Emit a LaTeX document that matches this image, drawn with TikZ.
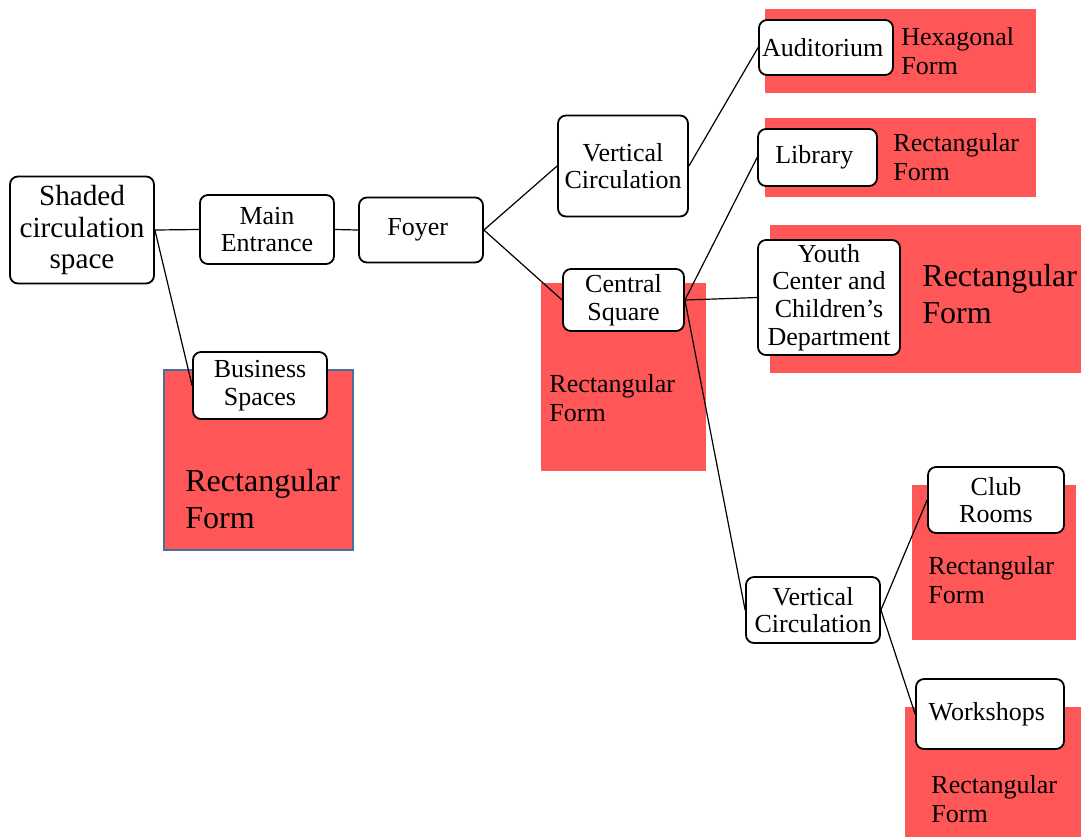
\documentclass[tikz,border=0pt]{standalone}
\usepackage{fontspec}
\setmainfont{Liberation Serif}
\definecolor{formred}{HTML}{FF5757}
\definecolor{formedge}{HTML}{41719C}

\begin{document}
\begin{tikzpicture}
    [
      x=0.5pt, y=-0.5pt,
      box/.style=
      {
        draw,
        fill=white,
        text=black,
        rounded corners=4pt,
        line width=0.9pt,
        align=center,
        inner sep=1pt,
        font=\fontsize{13}{13.8}\selectfont
      },
      form/.style=
      {
        fill=formred
      },
      formtxt/.style=
      {
        anchor=west,
        align=left,
        inner sep=0pt,
        font=\fontsize{13}{14.8}\selectfont
      },
      bigtxt/.style=
      {
        formtxt,
        font=\fontsize{16}{18.5}\selectfont
      },
      link/.style=
      {
        line width=0.6pt
      }
    ]
    \useasboundingbox (0,0) rectangle (1085,837);

    % red form panels
    \fill[form] (164,370) rectangle (353,550);
    \draw[formedge, line width=1pt] (164,370) rectangle (353,550);
    \fill[form] (541,283) rectangle (706,471);
    \fill[form] (765,9) rectangle (1036,93);
    \fill[form] (765,118) rectangle (1036,197);
    \fill[form] (770,225) rectangle (1081,373);
    \fill[form] (912,485) rectangle (1076,640);
    \fill[form] (905,707) rectangle (1081,837);

    \node[bigtxt](BusinessForm) at (185,499) {Rectangular\\Form};
    \node[formtxt](CentralForm) at (549,398) {Rectangular\\Form};
    \node[formtxt](AuditoriumForm) at (901,51) {Hexagonal\\Form};
    \node[formtxt](LibraryForm) at (893,157) {Rectangular\\Form};
    \node[bigtxt](YouthForm) at (922,294) {Rectangular\\Form};
    \node[formtxt](ClubForm) at (928,580) {Rectangular\\Form};
    \node[formtxt](WorkshopsForm) at (931,799) {Rectangular\\Form};

    % spaces
    \node[box, minimum width=72pt, minimum height=53.5pt,
          font=\fontsize{14.6}{15.6}\selectfont](Shaded) at (82,230)
    {
      Shaded\\circulation\\space
    };
    \node[box, minimum width=67pt, minimum height=34.5pt](Entrance) at (267,229.5)
    {
      Main\\Entrance
    };
    \node[box, minimum width=62pt, minimum height=32.5pt](Foyer) at (421,230)
    {
      Foyer
    };
    \node[box, minimum width=65pt, minimum height=50.5pt](VertTop) at (623,166)
    {
      Vertical\\Circulation
    };
    \node[box, minimum width=60.5pt, minimum height=31pt](Central) at (623.5,300)
    {
      Central\\Square
    };
    \node[box, minimum width=67pt, minimum height=33.5pt](Business) at (260,385.5)
    {
      Business\\Spaces
    };
    \node[box, minimum width=67pt, minimum height=27.5pt](Auditorium) at (826,47.5)
    {
      Auditorium
    };
    \node[box, minimum width=59.5pt, minimum height=28.5pt](Library) at (817.5,157.5)
    {
      Library
    };
    \node[box, minimum width=71pt, minimum height=57.5pt](Youth) at (829,297.5)
    {
      Youth\\Center and\\Children's\\Department
    };
    \node[box, minimum width=67pt, minimum height=33pt](VertLow) at (813,610)
    {
      Vertical\\Circulation
    };
    \node[box, minimum width=68pt, minimum height=33pt](Club) at (996,500)
    {
      Club\\Rooms
    };
    \node[box, minimum width=74pt, minimum height=35pt](Workshops) at (990,714)
    {
      Workshops
    };

    % connections
    \draw[link] (Shaded.east) -- (Entrance.west);
    \draw[link] (Shaded.east) -- (Business.west);
    \draw[link] (Entrance.east) -- (Foyer.west);
    \draw[link] (Foyer.east) -- (VertTop.west);
    \draw[link] (Foyer.east) -- (Central.west);
    \draw[link] (VertTop.east) -- (Auditorium.west);
    \draw[link] (Central.east) -- (Library.west);
    \draw[link] (Central.east) -- (Youth.west);
    \draw[link] (Central.east) -- (VertLow.west);
    \draw[link] (VertLow.east) -- (Club.west);
    \draw[link] (VertLow.east) -- (Workshops.west);
  \end{tikzpicture}
\end{document}
